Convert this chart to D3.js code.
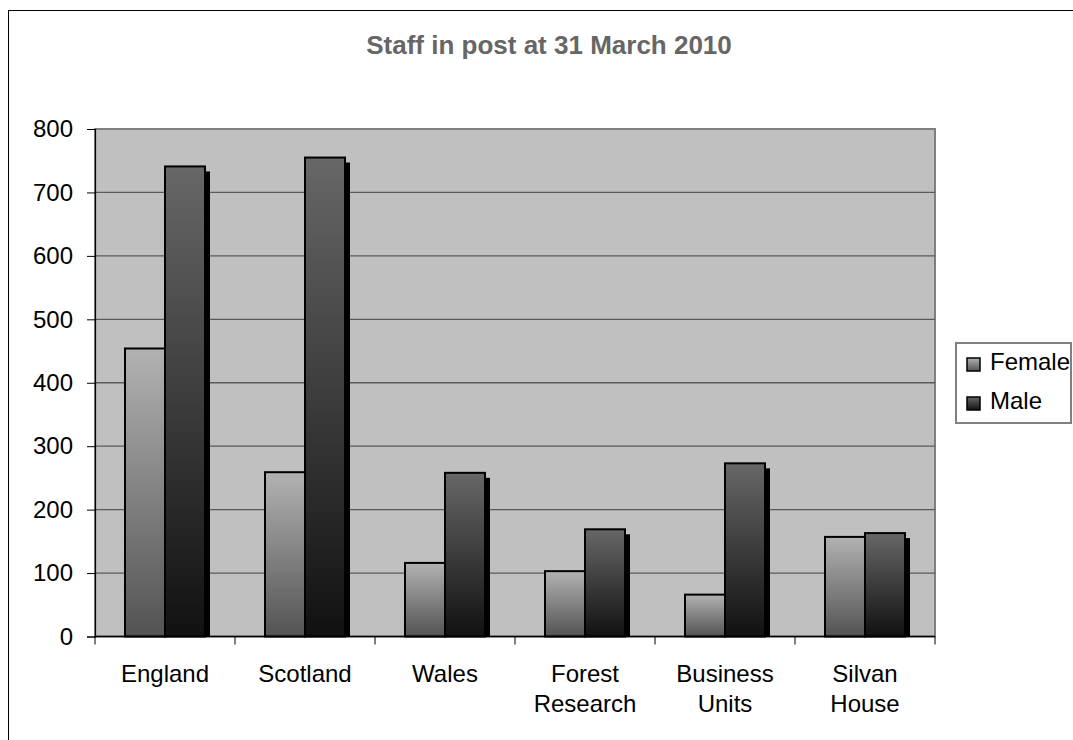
<!DOCTYPE html>
<html>
<head>
<meta charset="utf-8">
<script src="https://cdn.jsdelivr.net/npm/d3@7"></script>
<style>
  html, body { margin: 0; padding: 0; background: #fff; }
  svg { display: block; font-family: "Liberation Sans", Arial, sans-serif; }
</style>
</head>
<body>
<svg id="chart" width="1073" height="740"></svg>
<script>
const title = "Staff in post at 31 March 2010";
const categories = ["England", "Scotland", "Wales", "Forest Research", "Business Units", "Silvan House"];
const categoryLines = [["England"], ["Scotland"], ["Wales"], ["Forest", "Research"], ["Business", "Units"], ["Silvan", "House"]];
const seriesNames = ["Female", "Male"];
const female = [454, 259, 116, 103, 66, 157];
const male = [741, 755, 258, 169, 273, 163];
const yTicks = [0, 100, 200, 300, 400, 500, 600, 700, 800];

const seriesValues = [female, male];
const svg = d3.select("#chart");

const plot = { left: 95, right: 935, top: 129, bottom: 636.5 };

// gradients
const defs = svg.append("defs");
const grads = [
  { id: "gF", top: "#b2b2b2", bottom: "#535353" },
  { id: "gM", top: "#676767", bottom: "#111111" }
];
grads.forEach(g => {
  const lg = defs.append("linearGradient").attr("id", g.id)
    .attr("x1", 0).attr("y1", 0).attr("x2", 0).attr("y2", 1);
  lg.append("stop").attr("offset", "0%").attr("stop-color", g.top);
  lg.append("stop").attr("offset", "100%").attr("stop-color", g.bottom);
});

// outer frame
svg.append("rect").attr("x", 8.5).attr("y", 10.5).attr("width", 1200).attr("height", 900)
  .attr("fill", "#fff").attr("stroke", "#000").attr("stroke-width", 1);

// title
svg.append("text").attr("x", 549).attr("y", 54).attr("text-anchor", "middle")
  .attr("font-size", 26).attr("font-weight", "bold").attr("fill", "#666")
  .text(title);

const x = d3.scaleBand().domain(categories).range([plot.left, plot.right])
  .paddingInner(3 / 7).paddingOuter(3 / 14);
const xs = d3.scaleBand().domain(seriesNames).range([0, x.bandwidth()]);
const y = d3.scaleLinear().domain([0, 800]).range([plot.bottom, plot.top]);

// plot area
svg.append("rect").attr("x", plot.left).attr("y", plot.top)
  .attr("width", plot.right - plot.left).attr("height", plot.bottom - plot.top)
  .attr("fill", "#c0c0c0").attr("stroke", "#808080").attr("stroke-width", 2);

// gridlines
svg.append("g").selectAll("line").data(yTicks.filter(d => d > 0 && d < 800)).join("line")
  .attr("x1", plot.left).attr("x2", plot.right)
  .attr("y1", d => y(d)).attr("y2", d => y(d))
  .attr("stroke", "#5a5a5a").attr("stroke-width", 1.3);

// shadows
const groups = svg.append("g").selectAll("g").data(categories).join("g")
  .attr("transform", d => `translate(${x(d)},0)`);

seriesNames.forEach((s, si) => {
  groups.append("rect")
    .attr("x", xs(s) + 5)
    .attr("y", (d, i) => y(seriesValues[si][i]) + 5)
    .attr("width", xs.bandwidth())
    .attr("height", (d, i) => Math.max(0, y(0) - y(seriesValues[si][i]) - 5))
    .attr("fill", "#000");
});
seriesNames.forEach((s, si) => {
  groups.append("rect")
    .attr("x", xs(s))
    .attr("y", (d, i) => y(seriesValues[si][i]))
    .attr("width", xs.bandwidth())
    .attr("height", (d, i) => y(0) - y(seriesValues[si][i]))
    .attr("fill", `url(#${grads[si].id})`)
    .attr("stroke", "#000").attr("stroke-width", 2);
});

// y axis
const yAxis = svg.append("g").attr("transform", `translate(${plot.left},0)`)
  .call(d3.axisLeft(y).tickValues(yTicks).tickSize(8).tickPadding(14).tickFormat(d3.format("d")));
yAxis.select(".domain").attr("stroke", "#000").attr("stroke-width", 1.2);
yAxis.selectAll(".tick line").attr("stroke", "#000");
yAxis.selectAll(".tick text").attr("font-size", 24).attr("fill", "#000")
  .attr("font-family", "Liberation Sans, Arial, sans-serif");

// x axis
svg.append("line").attr("x1", plot.left).attr("x2", plot.right)
  .attr("y1", plot.bottom).attr("y2", plot.bottom)
  .attr("stroke", "#000").attr("stroke-width", 1.5);
const half = (x.step() - x.bandwidth()) / 2;
const bounds = categories.map(c => x(c) - half).concat([plot.right]);
svg.append("g").selectAll("line").data(bounds).join("line")
  .attr("x1", d => d).attr("x2", d => d)
  .attr("y1", plot.bottom).attr("y2", plot.bottom + 8)
  .attr("stroke", "#000");

const xl = svg.append("g").selectAll("text").data(categories).join("text")
  .attr("x", d => x(d) + x.bandwidth() / 2)
  .attr("y", 682)
  .attr("text-anchor", "middle").attr("font-size", 24).attr("fill", "#000");
xl.each(function (d, i) {
  const t = d3.select(this);
  categoryLines[i].forEach((ln, k) => {
    t.append("tspan").attr("x", x(d) + x.bandwidth() / 2).attr("dy", k === 0 ? 0 : 30).text(ln);
  });
});

// legend
const lg = svg.append("g");
lg.append("rect").attr("x", 956).attr("y", 343).attr("width", 115).attr("height", 80)
  .attr("fill", "#fff").attr("stroke", "#808080").attr("stroke-width", 2);
seriesNames.forEach((s, si) => {
  const yy = 364 + si * 39;
  lg.append("rect").attr("x", 967).attr("y", yy - 6).attr("width", 13).attr("height", 13)
    .attr("fill", `url(#${grads[si].id})`).attr("stroke", "#000").attr("stroke-width", 1.5);
  lg.append("text").attr("x", 990).attr("y", yy + 6).attr("font-size", 24).attr("fill", "#000").text(s);
});
</script>
</body>
</html>
